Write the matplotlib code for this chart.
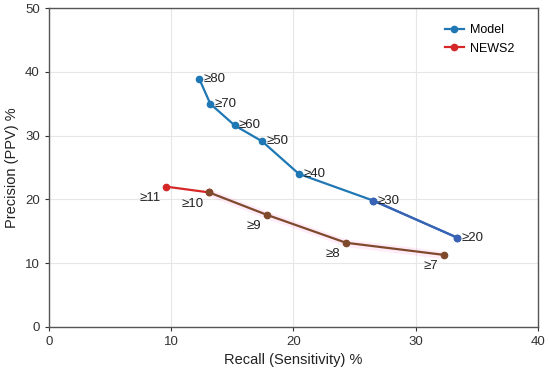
import matplotlib.pyplot as plt
import numpy as np

plt.rcParams['font.family'] = ['Liberation Sans', 'DejaVu Sans']

model_recall = [12.3, 13.2, 15.2, 17.45, 20.45, 26.55, 33.4]
model_ppv = [38.9, 35.0, 31.6, 29.1, 24.0, 19.8, 14.0]
model_labels = ['≥80', '≥70', '≥60', '≥50', '≥40', '≥30', '≥20']

news_recall = [9.6, 13.1, 17.8, 24.3, 32.3]
news_ppv = [22.0, 21.1, 17.6, 13.2, 11.3]
news_labels = ['≥11', '≥10', '≥9', '≥8', '≥7']

fig = plt.figure(figsize=(5.5, 3.74), dpi=100)
ax = fig.add_axes([0.089, 0.126, 0.889, 0.852])

# faint band behind the NEWS2 curve
ax.fill_between(news_recall[1:], np.array(news_ppv[1:]) - 0.6, np.array(news_ppv[1:]) + 0.6,
                color='#ff66cc', alpha=0.12, lw=0)

ax.plot(model_recall, model_ppv, '-o', color='#1f77b4', lw=1.6, ms=4.5, label='Model')
ax.plot(model_recall[-2:], model_ppv[-2:], '-o', color='#3a62b5', lw=1.6, ms=4.5)
ax.plot(news_recall[:2], news_ppv[:2], '-o', color='#d62728', lw=1.6, ms=4.5, label='NEWS2')
ax.plot(news_recall[1:], news_ppv[1:], '-o', color='#7f4a2c', lw=1.6, ms=4.5)

for x, y, t in zip(model_recall, model_ppv, model_labels):
    ax.annotate(t, (x, y), xytext=(3, 0), textcoords='offset points',
                ha='left', va='center', fontsize=9.5, color='#222222')
for x, y, t in zip(news_recall, news_ppv, news_labels):
    ax.annotate(t, (x, y), xytext=(-4, -4), textcoords='offset points',
                ha='right', va='top', fontsize=9.5, color='#222222')

ax.set_xlim(0, 40)
ax.set_ylim(0, 50)
ax.set_xticks([0, 10, 20, 30, 40])
ax.set_yticks([0, 10, 20, 30, 40, 50])
ax.grid(True, color='#e6e6e6', lw=0.8)
ax.set_axisbelow(True)
for s in ax.spines.values():
    s.set_color('#555555')
    s.set_linewidth(1.0)
ax.tick_params(labelsize=9.5, colors='#333333', length=3)
ax.set_xlabel('Recall (Sensitivity) %', fontsize=10.5, color='#222222')
ax.set_ylabel('Precision (PPV) %', fontsize=10.5, color='#222222')
ax.legend(loc='upper right', bbox_to_anchor=(0.975, 0.985), frameon=False,
          fontsize=9, handlelength=1.5, handletextpad=0.5)

fig.savefig('out.png', dpi=100)
